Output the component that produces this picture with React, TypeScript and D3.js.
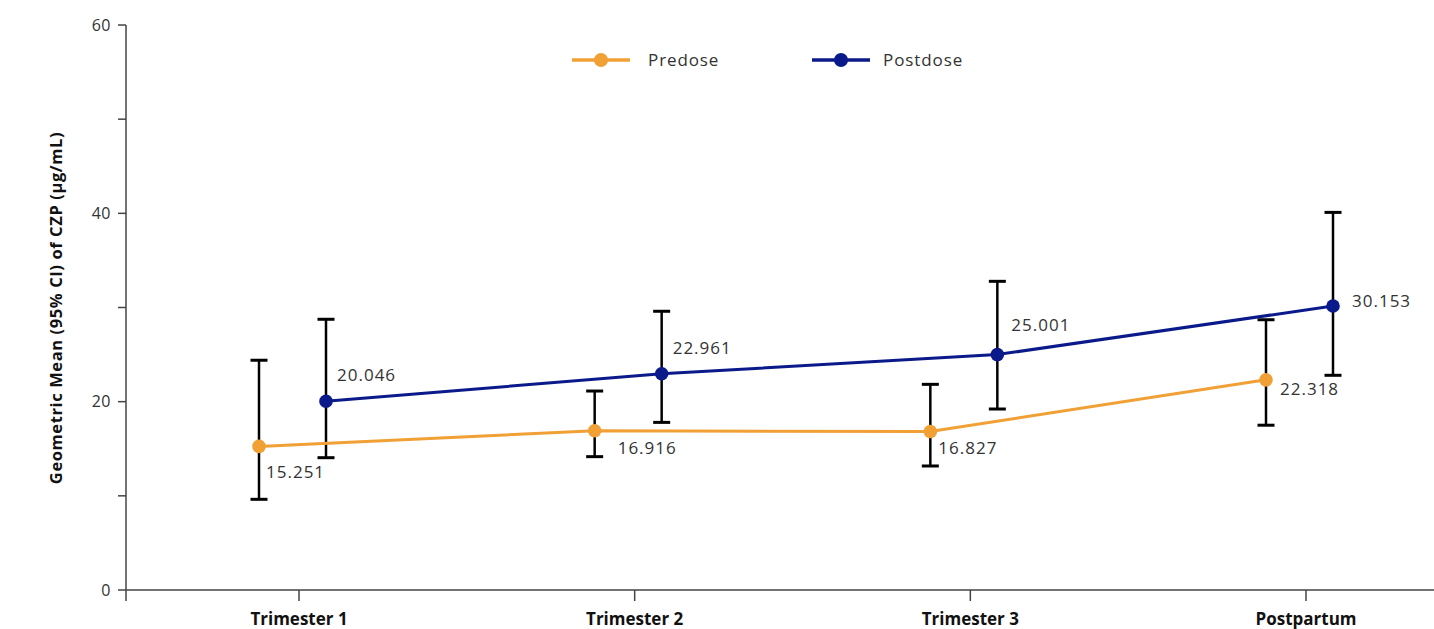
import React from "react";
import * as d3 from "d3";

const categories = ["Trimester 1", "Trimester 2", "Trimester 3", "Postpartum"];
const yTicks = [0, 10, 20, 30, 40, 50, 60];
const yTickLabels = ["0", "", "20", "", "40", "", "60"];

const predoseMean = [15.251, 16.916, 16.827, 22.318];
const predoseLow = [9.63, 14.16, 13.17, 17.5];
const predoseHigh = [24.4, 21.13, 21.84, 28.7];

const postdoseMean = [20.046, 22.961, 25.001, 30.153];
const postdoseLow = [14.05, 17.8, 19.22, 22.8];
const postdoseHigh = [28.75, 29.6, 32.78, 40.1];

const predoseLabels = ["15.251", "16.916", "16.827", "22.318"];
const postdoseLabels = ["20.046", "22.961", "25.001", "30.153"];

// label placement offsets (layout, px)
const predoseLabelOffsets = [[7, 32], [23, 23], [8, 22], [14, 15]];
const postdoseLabelOffsets = [[11, -20], [11, -20], [14, -24], [19, 1]];

const W = 1434;
const H = 629;
const ORANGE = "#F0A035";
const NAVY = "#0B1A8A";
const FONT = "'Open Sans', Lato, sans-serif";

export default function App() {
  const y = d3.scaleLinear().domain([0, 60]).range([590, 25]);
  const x = d3.scalePoint<string>().domain(categories).range([299, 1306]);
  const preOff = -40;
  const postOff = 27;

  const series = [
    { name: "Predose", color: ORANGE, mean: predoseMean, low: predoseLow, high: predoseHigh, labels: predoseLabels, offs: predoseLabelOffsets, dx: preOff, lgx: 572, lgt: 648 },
    { name: "Postdose", color: NAVY, mean: postdoseMean, low: postdoseLow, high: postdoseHigh, labels: postdoseLabels, offs: postdoseLabelOffsets, dx: postOff, lgx: 812, lgt: 883 },
  ];

  const capHalf = 8.5;

  return (
    <svg
      width={W}
      height={H}
      style={{ position: "absolute", left: 0, top: 0, display: "block", background: "#fff" }}
      fontFamily={FONT}
    >
      {/* axes */}
      <g stroke="#444" strokeWidth={1.5}>
        <line x1={126} x2={126} y1={y(60)} y2={601} />
        <line x1={126} x2={W} y1={y(0)} y2={y(0)} />
        {yTicks.map((t) => (
          <line key={t} x1={118} x2={126} y1={y(t)} y2={y(t)} />
        ))}
        {categories.map((c) => (
          <line key={c} x1={x(c)} x2={x(c)} y1={y(0)} y2={601} />
        ))}
      </g>
      {yTicks.map((t, i) =>
        yTickLabels[i] ? (
          <text key={t} x={111} y={y(t)} dy="0.35em" textAnchor="end" fontSize={16} fill="#333" letterSpacing={0.5}>
            {yTickLabels[i]}
          </text>
        ) : null
      )}
      <text
        transform={`translate(62,${308}) rotate(-90)`}
        textAnchor="middle"
        fontSize={16.5}
        fontWeight="bold"
        fill="#111"
        letterSpacing={0.6}
      >
        Geometric Mean (95% CI) of CZP (µg/mL)
      </text>
      {categories.map((c) => (
        <text key={c} x={x(c)} y={625} textAnchor="middle" fontSize={17} fontWeight="bold" fill="#111">
          {c}
        </text>
      ))}

      {/* error bars */}
      {series.map((s) => (
        <g key={s.name + "eb"} stroke="#000" strokeWidth={2.5}>
          {categories.map((c, i) => {
            const cx = (x(c) as number) + s.dx;
            return (
              <g key={c}>
                <line x1={cx} x2={cx} y1={y(s.high[i])} y2={y(s.low[i])} />
                <line x1={cx - capHalf} x2={cx + capHalf} y1={y(s.high[i])} y2={y(s.high[i])} strokeWidth={3} />
                <line x1={cx - capHalf} x2={cx + capHalf} y1={y(s.low[i])} y2={y(s.low[i])} strokeWidth={3} />
              </g>
            );
          })}
        </g>
      ))}

      {/* lines and points */}
      {series.map((s) => {
        const path = d3
          .line<number>()
          .x((_, i) => (x(categories[i]) as number) + s.dx)
          .y((d) => y(d))(s.mean);
        return (
          <g key={s.name}>
            <path d={path || ""} fill="none" stroke={s.color} strokeWidth={3} />
            {s.mean.map((v, i) => (
              <circle key={i} cx={(x(categories[i]) as number) + s.dx} cy={y(v)} r={6.8} fill={s.color} />
            ))}
            {s.mean.map((v, i) => (
              <text
                key={"t" + i}
                x={(x(categories[i]) as number) + s.dx + s.offs[i][0]}
                y={y(v) + s.offs[i][1]}
                fontSize={17}
                fill="#333"
                letterSpacing={1}
              >
                {s.labels[i]}
              </text>
            ))}
          </g>
        );
      })}

      {/* legend */}
      {series.map((s) => (
        <g key={s.name + "lg"}>
          <line x1={s.lgx} x2={s.lgx + 58} y1={60} y2={60} stroke={s.color} strokeWidth={3.5} />
          <circle cx={s.lgx + 29} cy={60} r={7} fill={s.color} />
          <text x={s.lgt} y={60} dy="0.35em" fontSize={17} fill="#333" letterSpacing={0.9}>
            {s.name}
          </text>
        </g>
      ))}
    </svg>
  );
}
